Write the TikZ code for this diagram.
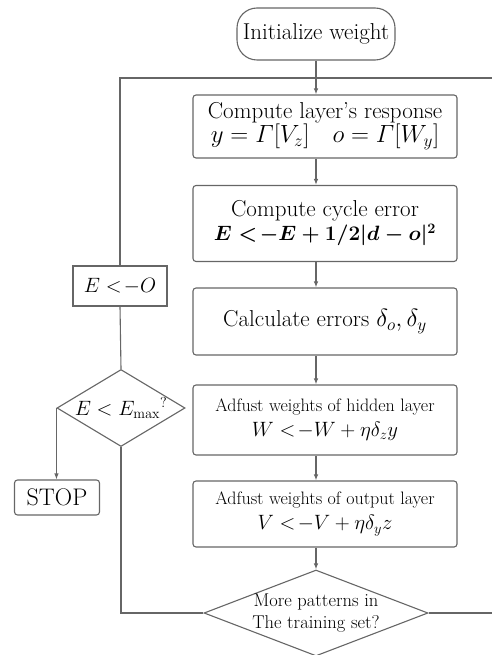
\documentclass[tikz,border=0pt]{standalone}
\usepackage{amsmath}
\usetikzlibrary{arrows.meta,shapes.geometric}
\tikzset{
  line/.style={draw=black!60, line width=1.1pt},
  arr/.style={line, -{Latex[length=6pt,width=4.5pt]}},
  proc/.style={line, rectangle, rounded corners=3pt, minimum width=264pt, align=center, inner sep=2pt},
  decide/.style={line, diamond, inner sep=0pt},
  big/.style={font=\fontsize{23}{24}\selectfont},
  small/.style={font=\fontsize{18}{25}\selectfont},
}
\begin{document}
\begin{tikzpicture}[x=1pt,y=-1pt]
        \useasboundingbox (0,0) rectangle (491,655);
        % main column
        \node[line, rectangle, rounded corners=20pt, minimum width=158pt, minimum height=52pt, big] (init) at (316,34) {Initialize weight};
        \node[proc, big, minimum height=63pt] (resp) at (325,126.5) {Compute layer's response\\ $y=\varGamma[V_z]\quad o=\varGamma[W_y]$};
        \node[proc, big, minimum height=76pt] (cycle) at (325,223.5) {Compute cycle error\\ {\fontsize{21}{24}\selectfont $\boldsymbol{E<\!-E+1/2|d-o|^2}$}};
        \node[proc, big, minimum height=67pt] (errs) at (325,321.5) {Calculate errors $\delta_o,\delta_y$};
        \node[proc, small, minimum height=70pt] (hidden) at (325,420) {Adfust weights of hidden layer\\ {\fontsize{21}{25}\selectfont $W<\!-W+\eta\delta_z y$}};
        \node[proc, small, minimum height=66pt] (output) at (325,514) {Adfust weights of output layer\\ {\fontsize{21}{25}\selectfont $V<\!-V+\eta\delta_y z$}};
        \node[decide, minimum width=224pt, minimum height=86pt] (more) at (316,613) {};
        \node[small, font=\fontsize{18.5}{22}\selectfont, align=center] (moretxt) at (more) {More patterns in\\The training set?};
        % left column
        \node[line, rectangle, minimum width=94pt, minimum height=40pt, big, font=\fontsize{22}{24}\selectfont] (reset) at (120,286) {$E<\!-O$};
        \node[decide, minimum width=128pt, minimum height=77pt] (check) at (121,408) {};
        \node[font=\fontsize{21}{24}\selectfont] (checktxt) at (check) {$E<E_{\max}{}^{?}$};
        \node[line, rectangle, rounded corners=3pt, minimum width=85pt, minimum height=35pt, font=\fontsize{24}{24}\selectfont] (stop) at (57,497.5) {STOP};
        \coordinate (topright) at (492.5,78);
        % arrows
        \draw[arr] (init) -- (resp.north -| init);
        \draw[arr] (resp.south -| init) -- (cycle.north -| init);
        \draw[arr] (cycle.south -| init) -- (errs.north -| init);
        \draw[arr] (errs.south -| init) -- (hidden.north -| init);
        \draw[arr] (hidden.south -| init) -- (output.north -| init);
        \draw[arr] (output.south -| init) -- (more.north);
        \draw[line] (more.east) -| (topright);
        \draw[line] (more.west) -| (check.south);
        \draw[line] (check.north) -- (reset.south);
        \draw[line] (reset.north) |- (topright);
        \draw[arr] (check.west) -- (check.west |- stop.north);
        \end{tikzpicture}
\end{document}
